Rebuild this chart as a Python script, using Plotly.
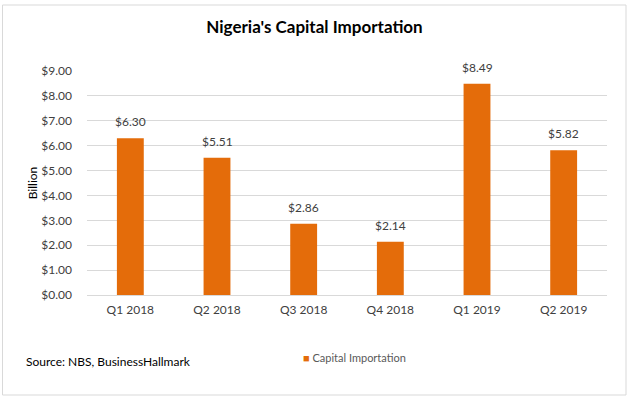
import plotly.graph_objects as go

categories = ["Q1 2018", "Q2 2018", "Q3 2018", "Q4 2018", "Q1 2019", "Q2 2019"]
values = [6.30, 5.51, 2.86, 2.14, 8.49, 5.82]
series_name = "Capital Importation"
tick_vals = [0, 1, 2, 3, 4, 5, 6, 7, 8, 9]

FONT = "Lato, Carlito, Calibri, sans-serif"
BAR = "#E46C0A"
W, H = 629, 396
L, R, T, B = 87, 22, 71, 101
PW, PH = W - L - R, H - T - B

fig = go.Figure()
fig.add_trace(go.Bar(
    x=categories, y=values, name=series_name,
    marker=dict(color=BAR, line=dict(width=0)),
    width=0.31, showlegend=False,
))

label_annotations = [
    dict(x=c, y=v, xref="x", yref="y", text=f"${v:.2f}", showarrow=False,
         yanchor="bottom", yshift=7, font=dict(size=12, color="#404040", family=FONT))
    for c, v in zip(categories, values)
]

fig.update_layout(
    width=W, height=H,
    margin=dict(l=L, r=R, t=T, b=B, autoexpand=False),
    paper_bgcolor="white", plot_bgcolor="white",
    font=dict(family=FONT, color="#404040", size=12),
    title=dict(text="<b>Nigeria's Capital Importation</b>", x=0.5, xanchor="center",
               y=1 - 27 / H, yanchor="middle",
               font=dict(size=17, color="#000000", family=FONT)),
    showlegend=False,
    bargap=0.69,
    xaxis=dict(showgrid=False, showline=True, linecolor="#D9D9D9", ticks="",
               ticklabelstandoff=4,
               tickfont=dict(size=12, color="#404040")),
    yaxis=dict(range=[0, 9], tickvals=tick_vals,
               ticktext=[f"${v:.2f}" for v in tick_vals],
               showgrid=True, gridcolor="#D9D9D9", zeroline=False,
               showline=False, ticks="", ticklen=0, ticklabelstandoff=14,
               tickfont=dict(size=12, color="#404040"),
               title=dict(text="Billion", font=dict(size=12, color="#000000"), standoff=1)),
    shapes=[dict(type="rect", xref="paper", yref="paper",
                 x0=(2.5 - L) / PW, x1=(626 - L) / PW,
                 y0=-(395 - (H - B)) / PH, y1=1 + (T - 5) / PH,
                 line=dict(color="#D9D9D9", width=1))],
    annotations=label_annotations + [
        dict(text="Source: NBS, BusinessHallmark", xref="paper", yref="paper",
             x=(24 - L) / PW, xanchor="left",
             y=-(361 - (H - B)) / PH, yanchor="middle", showarrow=False,
             font=dict(size=12, color="#000000", family=FONT)),
        dict(text=f"<span style='color:{BAR}'>■</span> {series_name}", xref="paper", yref="paper",
             x=(301 - L) / PW, xanchor="left",
             y=-(357 - (H - B)) / PH, yanchor="middle", showarrow=False,
             font=dict(size=11, color="#595959", family=FONT)),
    ],
)

fig.write_html("out.html", config={"displayModeBar": False},
               post_script="document.body.style.margin='0';")
